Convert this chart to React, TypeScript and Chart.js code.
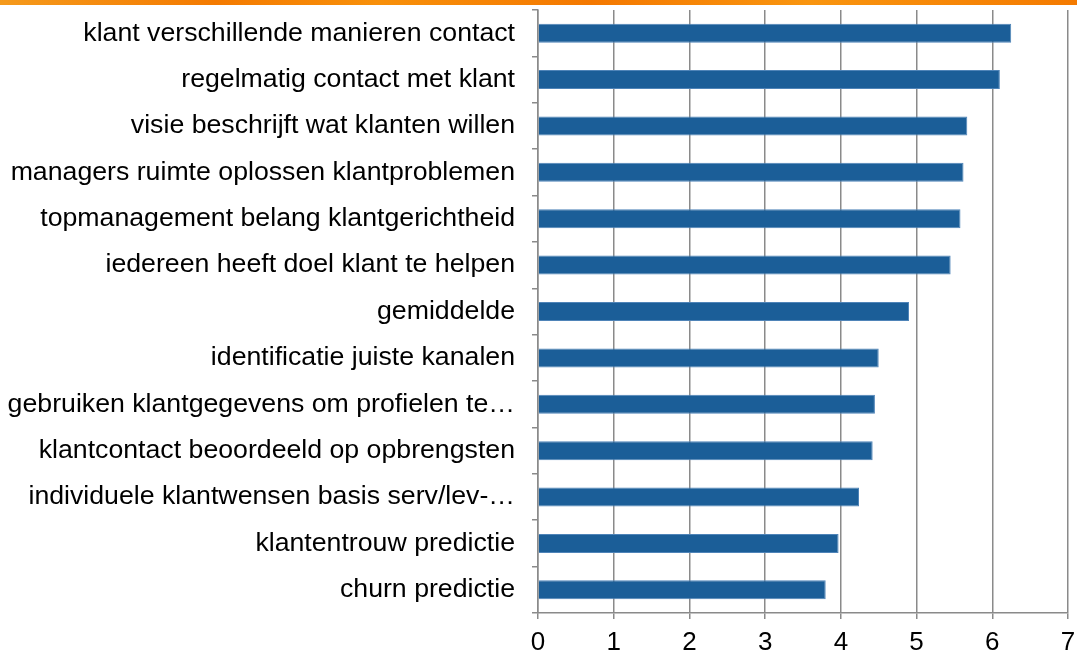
import React, { useEffect, useRef } from "react";
import { Chart, registerables } from "chart.js";

Chart.register(...registerables);

const categories: string[] = [
  "klant verschillende manieren contact",
  "regelmatig contact met klant",
  "visie beschrijft wat klanten willen",
  "managers ruimte oplossen klantproblemen",
  "topmanagement belang klantgerichtheid",
  "iedereen heeft doel klant te helpen",
  "gemiddelde",
  "identificatie juiste kanalen",
  "gebruiken klantgegevens om profielen te…",
  "klantcontact beoordeeld op opbrengsten",
  "individuele klantwensen basis serv/lev-…",
  "klantentrouw predictie",
  "churn predictie",
];

const scores: number[] = [6.25, 6.1, 5.67, 5.62, 5.58, 5.45, 4.9, 4.5, 4.45, 4.42, 4.24, 3.97, 3.8];

const xMin = 0;
const xMax = 7;

export default function App() {
  const ref = useRef<HTMLCanvasElement | null>(null);

  useEffect(() => {
    document.body.style.margin = "0";
    if (!ref.current) return;
    const chart = new Chart(ref.current, {
      type: "bar",
      data: {
        labels: categories,
        datasets: [
          {
            data: scores,
            backgroundColor: "#1B5E98",
            borderColor: "#4F84B8",
            borderWidth: 1,
            barPercentage: 0.41,
            categoryPercentage: 1,
          },
        ],
      },
      options: {
        indexAxis: "y",
        animation: false,
        responsive: false,
        maintainAspectRatio: false,
        layout: { padding: { top: 10, right: 9, bottom: 0, left: 0 } },
        plugins: {
          legend: { display: false },
          tooltip: { enabled: false },
        },
        scales: {
          x: {
            min: xMin,
            max: xMax,
            afterFit: (scale: any) => {
              scale.height = 42;
              scale.paddingLeft = 0;
              scale.paddingRight = 0;
            },
            ticks: {
              stepSize: 1,
              color: "#000",
              font: { family: "Liberation Sans, Arial", size: 26, lineHeight: 1 },
              padding: 11,
            },
            grid: {
              color: "#8a8a8a",
              lineWidth: 1.5,
              tickLength: 6,
              drawTicks: true,
            },
            border: { color: "#8a8a8a", width: 1.5 },
          },
          y: {
            afterFit: (scale: any) => {
              scale.width = 538;
              scale.paddingTop = 0;
              scale.paddingBottom = 0;
            },
            ticks: {
              color: "#000",
              font: { family: "Liberation Sans, Arial", size: 26.7 },
              padding: 17,
              autoSkip: false,
            },
            grid: {
              drawOnChartArea: false,
              drawTicks: true,
              tickLength: 6,
              color: "#8a8a8a",
              lineWidth: 1.5,
            },
            border: { color: "#8a8a8a", width: 1.5 },
          },
        },
      },
    });
    return () => chart.destroy();
  }, []);

  return (
    <div style={{ position: "relative", width: 1077, height: 655, background: "#fff" }}>
      <div
        style={{
          position: "absolute",
          top: 0,
          left: 0,
          width: 1077,
          height: 5,
          background:
            "linear-gradient(90deg, #F59A1C 0%, #F47A00 20%, #F8900A 35%, #F47800 55%, #F9950F 75%, #F47A00 100%)",
        }}
      />
      <canvas ref={ref} width={1077} height={655} style={{ display: "block" }} />
    </div>
  );
}
